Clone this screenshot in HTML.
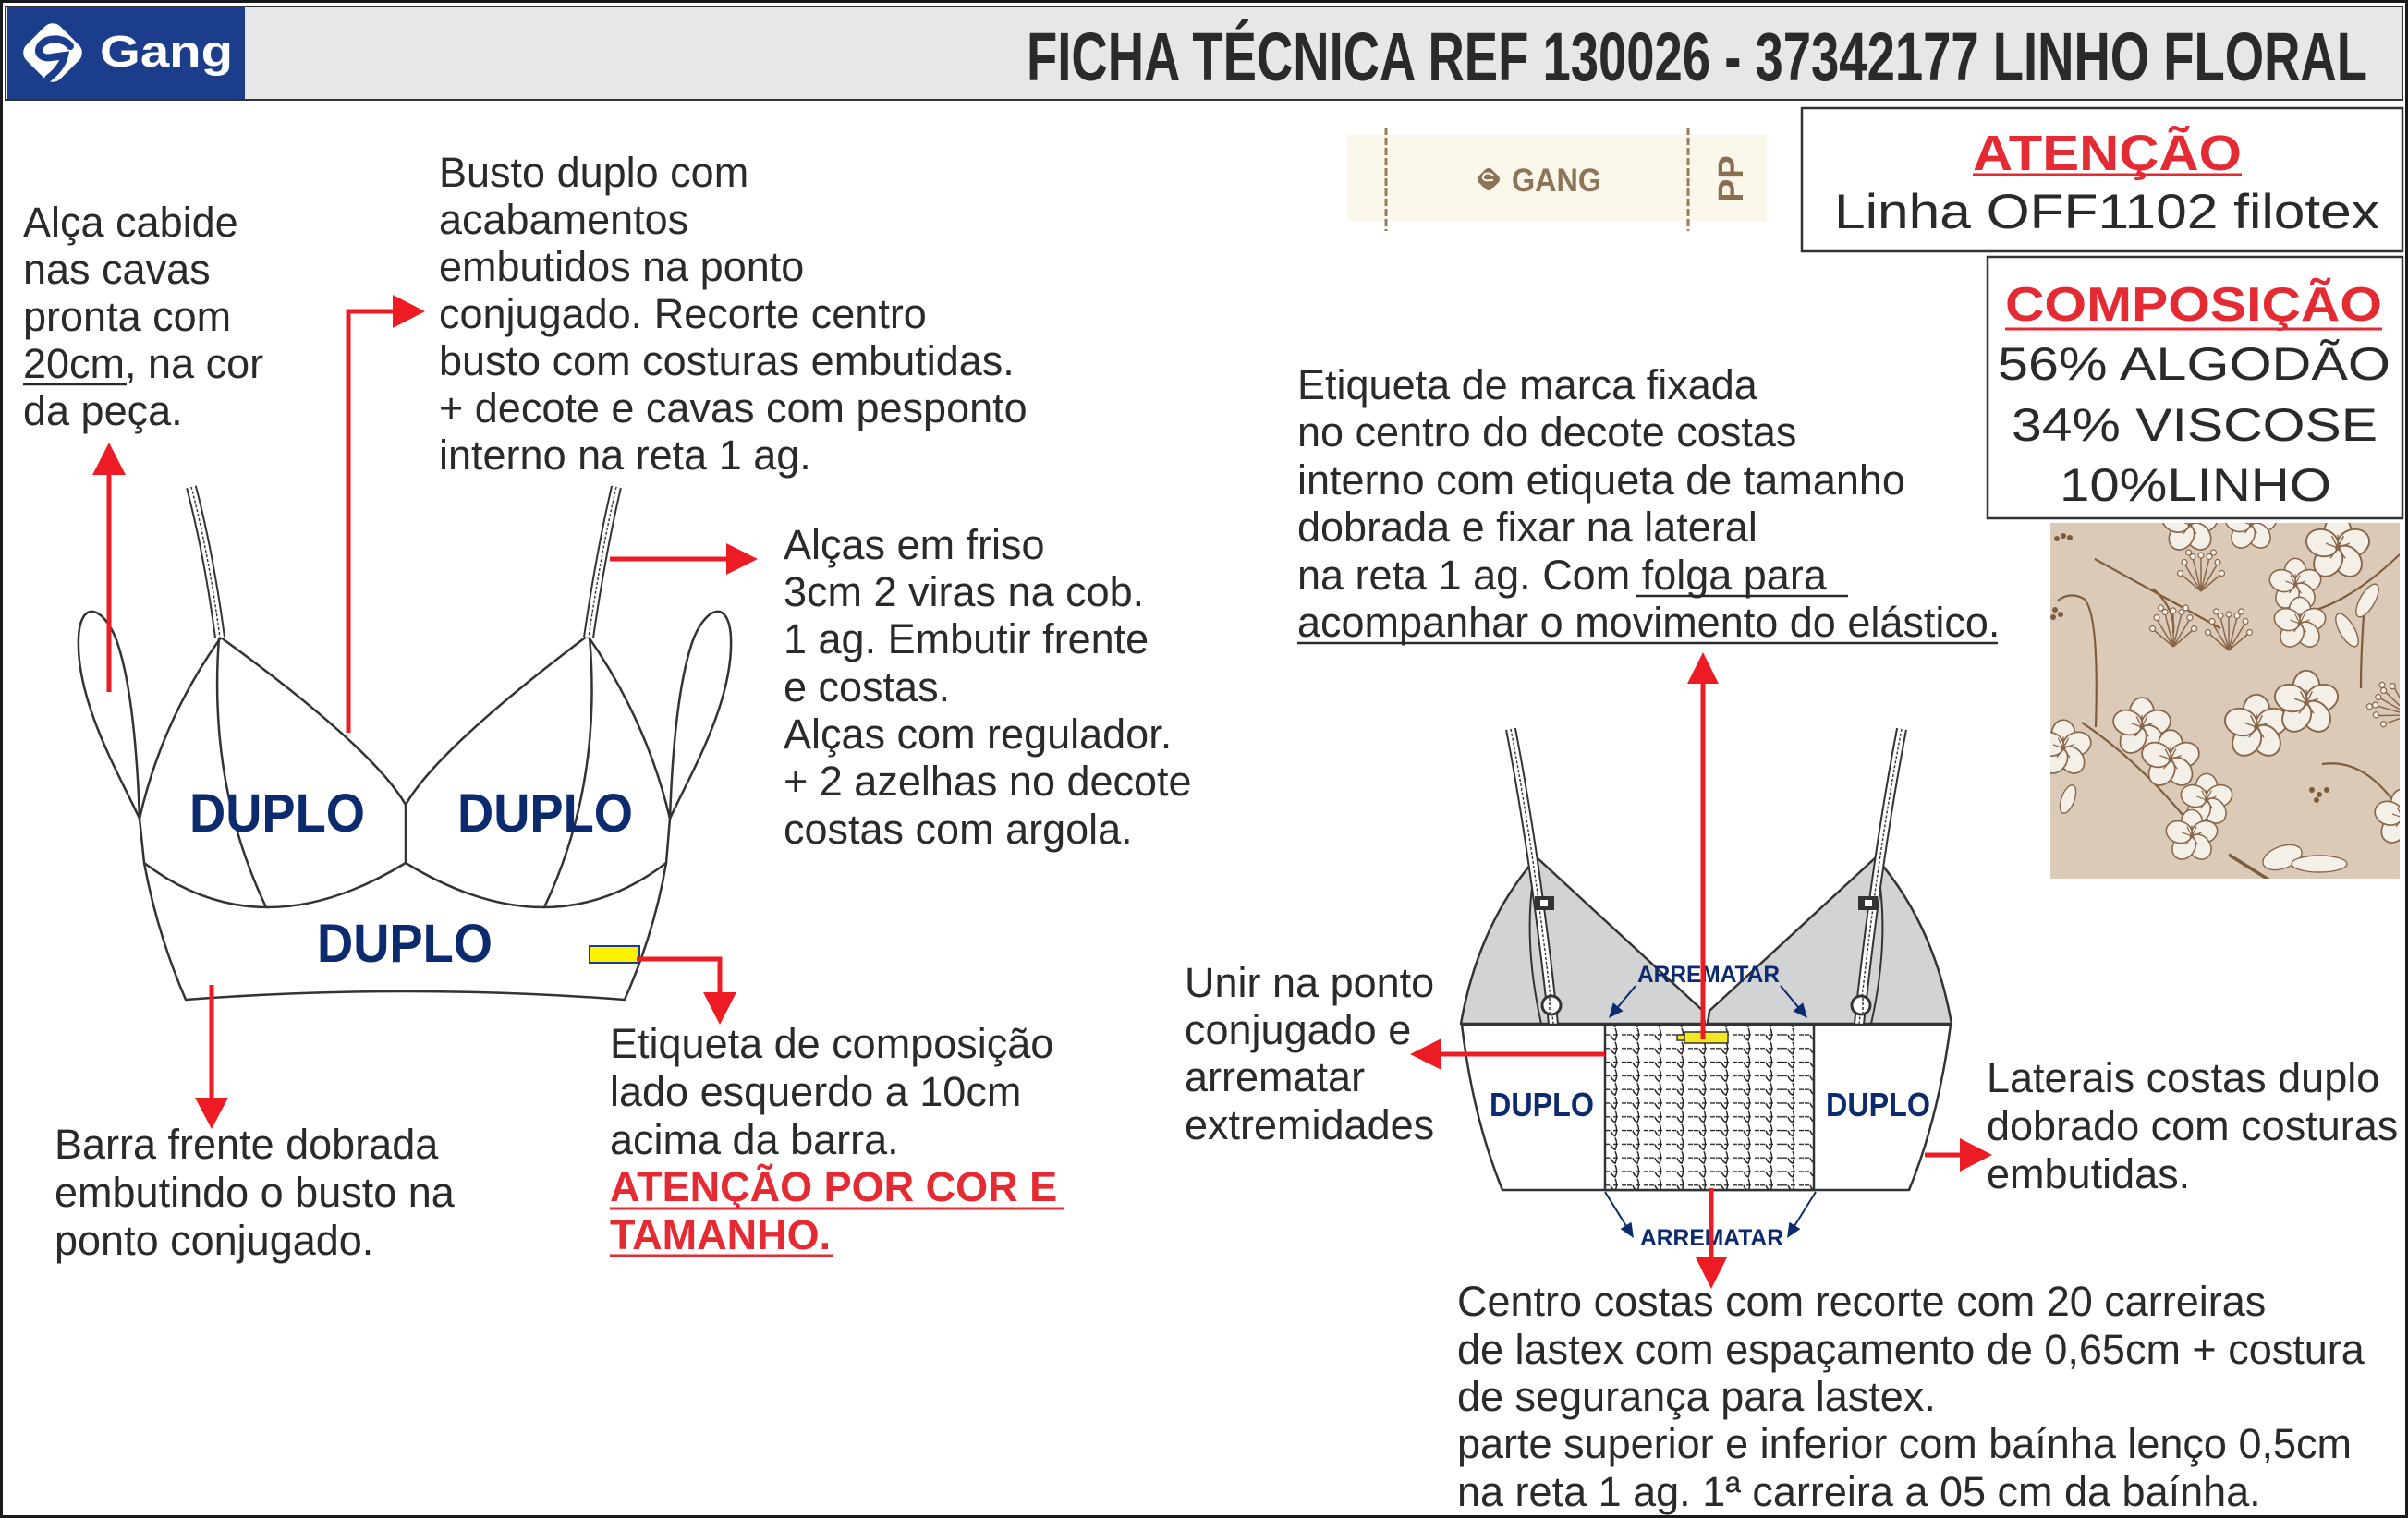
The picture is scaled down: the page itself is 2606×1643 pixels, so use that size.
<!DOCTYPE html>
<html>
<head>
<meta charset="utf-8">
<style>
html,body{margin:0;padding:0;background:#fff;}
svg{display:block;}
</style>
</head>
<body>
<svg width="2606" height="1643" viewBox="0 0 2606 1643" xmlns="http://www.w3.org/2000/svg" font-family="'Liberation Sans', Arial, sans-serif">
<defs>
  <clipPath id="swclip"><rect x="2219" y="566" width="378" height="385"/></clipPath>
  <g id="fl">
    <ellipse cx="0" cy="-11" rx="9" ry="11" fill="#f4efe7" stroke="#87664a" stroke-width="1.2"/>
    <ellipse cx="0" cy="-11" rx="9" ry="11" transform="rotate(72)" fill="#f4efe7" stroke="#87664a" stroke-width="1.2"/>
    <ellipse cx="0" cy="-11" rx="9" ry="11" transform="rotate(144)" fill="#f4efe7" stroke="#87664a" stroke-width="1.2"/>
    <ellipse cx="0" cy="-11" rx="9" ry="11" transform="rotate(216)" fill="#f4efe7" stroke="#87664a" stroke-width="1.2"/>
    <ellipse cx="0" cy="-11" rx="9" ry="11" transform="rotate(288)" fill="#f4efe7" stroke="#87664a" stroke-width="1.2"/>
    <path d="M0,0 L0,-9 M0,0 L8,-3 M0,0 L5,7 M0,0 L-5,7 M0,0 L-8,-3 M0,0 L4,-8 M0,0 L-4,-8" stroke="#87664a" stroke-width="0.9" fill="none"/>
    <circle cx="0" cy="0" r="1.8" fill="#87664a"/>
  </g>
  <g id="dd">
    <path d="M0,12 L-12,-8 M0,12 L-6,-12 M0,12 L0,-13 M0,12 L6,-12 M0,12 L12,-8 M0,12 L-14,0 M0,12 L14,0" stroke="#87664a" stroke-width="1" fill="none"/>
    <g fill="#f4efe7" stroke="#87664a" stroke-width="0.8">
      <circle cx="-12" cy="-9" r="2"/><circle cx="-6" cy="-13" r="2"/><circle cx="0" cy="-14" r="2"/>
      <circle cx="6" cy="-13" r="2"/><circle cx="12" cy="-9" r="2"/><circle cx="-15" cy="-1" r="2"/><circle cx="15" cy="-1" r="2"/>
      <circle cx="-9" cy="-16" r="2"/><circle cx="9" cy="-16" r="2"/>
    </g>
  </g>
  <path id="hk" d="M0,-7 C2,-3 2,2 0,6 C-2,5 -4,3 -5,0" fill="none" stroke="#222" stroke-width="1.5"/>
  <pattern id="lastex" patternUnits="userSpaceOnUse" x="1737" y="1113" width="24" height="14.8">
    <line x1="0" y1="7" x2="24" y2="7" stroke="#222" stroke-width="1.4" stroke-dasharray="5 4"/>
    <use href="#hk" x="11" y="7"/>
  </pattern>
</defs>

<!-- page border -->
<rect x="1.5" y="1.5" width="2603" height="1640" fill="#fff" stroke="#1a1a1a" stroke-width="3"/>

<!-- header -->
<rect x="6" y="7" width="2594" height="101" fill="#e6e7e8" stroke="#333" stroke-width="2"/>
<rect x="8" y="8" width="257" height="99" fill="#1c3d8b"/>
<rect x="31" y="31" width="52" height="52" rx="12" fill="#fff" transform="rotate(45 57 57)"/>
<path d="M76,50 C70,41 52,39 44,49 C38,58 46,64 56,62 L70,60 C68,70 61,78 52,85" fill="none" stroke="#1c3d8b" stroke-width="8" stroke-linecap="round"/>
<text x="108" y="72" font-size="48" font-weight="bold" fill="#fff" textLength="144" lengthAdjust="spacingAndGlyphs">Gang</text>
<text x="1111" y="87" font-size="74" font-weight="bold" fill="#2a2a2a" textLength="1451" lengthAdjust="spacingAndGlyphs">FICHA TÉCNICA REF 130026 - 37342177 LINHO FLORAL</text>

<!-- brand label image -->
<rect x="1458" y="146" width="454" height="93" fill="#fbf7ea"/>
<line x1="1500" y1="138" x2="1500" y2="250" stroke="#9d7b55" stroke-width="3" stroke-dasharray="8 3"/>
<line x1="1827" y1="138" x2="1827" y2="250" stroke="#9d7b55" stroke-width="3" stroke-dasharray="8 3"/>
<rect x="1601" y="184" width="20" height="20" rx="5" fill="#8c7456" transform="rotate(45 1611 194)"/>
<path d="M1616,190 C1612,186 1606,187 1605,191 C1604,195 1609,196 1612,195 L1616,195" fill="none" stroke="#fbf7ea" stroke-width="2"/>
<text x="1636" y="207" font-size="35" font-weight="bold" fill="#8c7456" textLength="97" lengthAdjust="spacingAndGlyphs">GANG</text>
<text transform="translate(1886,219) rotate(-90)" font-size="38" font-weight="bold" fill="#8b6d4f">PP</text>

<!-- ATENCAO box -->
<rect x="1950" y="117" width="650" height="155" fill="#fff" stroke="#333" stroke-width="2.5"/>
<text x="2135" y="184" font-size="54" font-weight="bold" fill="#e42b33" textLength="291" lengthAdjust="spacingAndGlyphs">ATENÇÃO</text>
<line x1="2135" y1="189" x2="2426" y2="189" stroke="#e42b33" stroke-width="3"/>
<text x="1985" y="247" font-size="53" fill="#2a2a2a" textLength="590" lengthAdjust="spacingAndGlyphs">Linha OFF1102 filotex</text>

<!-- COMPOSICAO box -->
<rect x="2151" y="278" width="449" height="283" fill="#fff" stroke="#333" stroke-width="2.5"/>
<text x="2170" y="347" font-size="52" font-weight="bold" fill="#e42b33" textLength="408" lengthAdjust="spacingAndGlyphs">COMPOSIÇÃO</text>
<line x1="2170" y1="356" x2="2578" y2="356" stroke="#e42b33" stroke-width="3"/>
<text x="2162" y="411" font-size="50" fill="#2a2a2a" textLength="425" lengthAdjust="spacingAndGlyphs">56% ALGODÃO</text>
<text x="2177" y="477" font-size="50" fill="#2a2a2a" textLength="396" lengthAdjust="spacingAndGlyphs">34% VISCOSE</text>
<text x="2229" y="542" font-size="50" fill="#2a2a2a" textLength="294" lengthAdjust="spacingAndGlyphs">10%LINHO</text>

<!-- floral swatch -->
<g clip-path="url(#swclip)">
  <rect x="2219" y="566" width="378" height="385" fill="#dbcab7"/>
  <g fill="none" stroke="#7d5c3e" stroke-width="2.2">
    <path d="M2267,605 L2403,680"/>
    <path d="M2330,637 Q2355,660 2352,685"/>
    <path d="M2227,650 Q2240,640 2255,648 Q2272,662 2268,787"/>
    <path d="M2253,782 Q2310,820 2363,883"/>
    <path d="M2513,827 Q2560,820 2597,877"/>
    <path d="M2412,925 L2455,952" stroke-width="3.5"/>
    <path d="M2597,600 Q2545,650 2500,662"/>
    <path d="M2560,640 Q2555,700 2555,745"/>
  </g>
  <use href="#dd" transform="translate(2382,622) scale(1.5)"/>
  <use href="#dd" transform="translate(2352,682) scale(1.5)"/>
  <use href="#dd" transform="translate(2412,686) scale(1.5)"/>
  <use href="#dd" transform="translate(2592,765) scale(1.5) rotate(-60)"/>
  <g fill="#7d5c3e">
    <circle cx="2226" cy="583" r="3"/><circle cx="2233" cy="580" r="3"/><circle cx="2240" cy="582" r="3"/>
    <circle cx="2224" cy="660" r="3"/><circle cx="2230" cy="665" r="3"/><circle cx="2222" cy="668" r="3"/>
    <circle cx="2502" cy="855" r="3"/><circle cx="2510" cy="860" r="3"/><circle cx="2518" cy="855" r="3"/><circle cx="2507" cy="866" r="3"/>
  </g>
  <use href="#fl" transform="translate(2530,593) scale(1.6)"/>
  <use href="#fl" transform="translate(2484,633) scale(1.3)"/>
  <use href="#fl" transform="translate(2489,675) scale(1.3)"/>
  <use href="#fl" transform="translate(2318,787) scale(1.45)"/>
  <use href="#fl" transform="translate(2349,822) scale(1.45)"/>
  <use href="#fl" transform="translate(2442,787) scale(1.6)"/>
  <use href="#fl" transform="translate(2496,761) scale(1.6)"/>
  <use href="#fl" transform="translate(2388,866) scale(1.3)"/>
  <use href="#fl" transform="translate(2372,905) scale(1.3)"/>
  <use href="#fl" transform="translate(2233,810) scale(1.4)"/>
  <use href="#fl" transform="translate(2370,568) scale(1.4)"/>
  <use href="#fl" transform="translate(2436,568) scale(1.3)"/>
  <use href="#fl" transform="translate(2600,885) scale(1.4)"/>
  <ellipse cx="2470" cy="928" rx="22" ry="12" fill="#f4efe7" stroke="#87664a" stroke-width="1.4" transform="rotate(-20 2470 928)"/>
  <ellipse cx="2510" cy="935" rx="30" ry="9" fill="#f4efe7" stroke="#87664a" stroke-width="1.4"/>
  <ellipse cx="2562" cy="650" rx="8" ry="20" fill="#f4efe7" stroke="#87664a" stroke-width="1.4" transform="rotate(30 2562 650)"/>
  <ellipse cx="2540" cy="682" rx="8" ry="20" fill="#f4efe7" stroke="#87664a" stroke-width="1.4" transform="rotate(-30 2540 682)"/>
  <ellipse cx="2238" cy="865" rx="7" ry="16" fill="#f4efe7" stroke="#87664a" stroke-width="1.4" transform="rotate(20 2238 865)"/>
</g>

<!-- body text -->
<g font-size="45" fill="#2a2a2a">
  <text x="25" y="256">Alça cabide</text>
  <text x="25" y="307">nas cavas</text>
  <text x="25" y="358">pronta com</text>
  <text x="25" y="409">20cm, na cor</text>
  <text x="25" y="460">da peça.</text>

  <text x="475" y="202">Busto duplo com</text>
  <text x="475" y="253">acabamentos</text>
  <text x="475" y="304">embutidos na ponto</text>
  <text x="475" y="355">conjugado. Recorte centro</text>
  <text x="475" y="406">busto com costuras embutidas.</text>
  <text x="475" y="457">+ decote e cavas com pesponto</text>
  <text x="475" y="508">interno na reta 1 ag.</text>

  <text x="848" y="605">Alças em friso</text>
  <text x="848" y="656">3cm 2 viras na cob.</text>
  <text x="848" y="707">1 ag. Embutir frente</text>
  <text x="848" y="759">e costas.</text>
  <text x="848" y="810">Alças com regulador.</text>
  <text x="848" y="861">+ 2 azelhas no decote</text>
  <text x="848" y="913">costas com argola.</text>

  <text x="59" y="1254">Barra frente dobrada</text>
  <text x="59" y="1306">embutindo o busto na</text>
  <text x="59" y="1358">ponto conjugado.</text>

  <text x="660" y="1145">Etiqueta de composição</text>
  <text x="660" y="1197">lado esquerdo a 10cm</text>
  <text x="660" y="1249">acima da barra.</text>

  <text x="1404" y="432">Etiqueta de marca fixada</text>
  <text x="1404" y="483">no centro do decote costas</text>
  <text x="1404" y="535">interno com etiqueta de tamanho</text>
  <text x="1404" y="586">dobrada e fixar na lateral</text>
  <text x="1404" y="638">na reta 1 ag. Com folga para </text>
  <text x="1404" y="689">acompanhar o movimento do elástico.</text>

  <text x="1282" y="1079">Unir na ponto</text>
  <text x="1282" y="1130">conjugado e</text>
  <text x="1282" y="1181">arrematar</text>
  <text x="1282" y="1233">extremidades</text>

  <text x="1577" y="1424">Centro costas com recorte com 20 carreiras</text>
  <text x="1577" y="1476">de lastex com espaçamento de 0,65cm + costura</text>
  <text x="1577" y="1527">de segurança para lastex.</text>
  <text x="1577" y="1578">parte superior e inferior com baínha lenço 0,5cm</text>
  <text x="1577" y="1630">na reta 1 ag. 1ª carreira a 05 cm da baínha.</text>

  <text x="2150" y="1182">Laterais costas duplo</text>
  <text x="2150" y="1234">dobrado com costuras</text>
  <text x="2150" y="1286">embutidas.</text>
</g>
<g font-size="45" font-weight="bold" fill="#e42b33">
  <text x="660" y="1300">ATENÇÃO POR COR E</text>
  <text x="660" y="1352">TAMANHO.</text>
</g>
<g stroke-width="2.5">
  <line x1="25" y1="416" x2="137" y2="416" stroke="#2a2a2a"/>
  <line x1="1771" y1="645" x2="2000" y2="645" stroke="#2a2a2a"/>
  <line x1="1404" y1="696" x2="2162" y2="696" stroke="#2a2a2a"/>
  <line x1="660" y1="1308" x2="1152" y2="1308" stroke="#e42b33" stroke-width="3"/>
  <line x1="660" y1="1359" x2="902" y2="1359" stroke="#e42b33" stroke-width="3"/>
</g>

<!-- FRONT BRA -->
<g fill="none" stroke="#333" stroke-width="2.5" stroke-linejoin="round">
  <path d="M151,886 C130,840 82,760 85,690 C87,650 110,655 125,690 C140,730 148,800 151,886 Z" fill="#fff"/>
  <path d="M151,886 C130,840 82,760 85,690 C87,650 110,655 125,690 C140,730 148,800 151,886 Z" fill="#fff" transform="translate(876,0) scale(-1,1)"/>
  <path d="M239,690 Q175,780 151,886 L156,934 Q170,1010 201,1082 Q439,1064 676,1082 Q708,1010 721,934 L725,886 Q700,780 636,688 Q474,810 439,871 Q404,810 239,690 Z" fill="#fff"/>
  <path d="M237,690 Q225,850 288,982"/>
  <path d="M638,689 Q652,850 589,982"/>
  <path d="M439,871 L439,934"/>
  <path d="M156,934 Q282,1030 439,934 Q596,1030 721,934"/>
</g>
<g fill="none">
  <path d="M207,527 Q226,600 238,690" stroke="#333" stroke-width="12"/>
  <path d="M207,527 Q226,600 238,690" stroke="#fff" stroke-width="8"/>
  <path d="M207,527 Q226,600 238,690" stroke="#333" stroke-width="1.4" stroke-dasharray="3 2"/>
  <path d="M667,527 Q650,600 637,690" stroke="#333" stroke-width="12"/>
  <path d="M667,527 Q650,600 637,690" stroke="#fff" stroke-width="8"/>
  <path d="M667,527 Q650,600 637,690" stroke="#333" stroke-width="1.4" stroke-dasharray="3 2"/>
</g>
<g font-size="58" font-weight="bold" fill="#0c2a6e">
  <text x="205" y="900" textLength="190" lengthAdjust="spacingAndGlyphs">DUPLO</text>
  <text x="495" y="900" textLength="190" lengthAdjust="spacingAndGlyphs">DUPLO</text>
  <text x="343" y="1041" textLength="190" lengthAdjust="spacingAndGlyphs">DUPLO</text>
</g>
<rect x="638" y="1024" width="54" height="18" fill="#fff200" stroke="#1c3d8b" stroke-width="2"/>

<!-- BACK BRA -->
<path d="M1582,1109 Q1594,1210 1626,1288 L2066,1288 Q2098,1210 2111,1109 Z" fill="#fff" stroke="#333" stroke-width="2.5" stroke-linejoin="round"/>
<g id="bcup">
  <path d="M1581,1108 Q1600,1000 1663,928 L1843,1094 L1845,1108 Z" fill="#d1d3d4" stroke="#333" stroke-width="2.5" stroke-linejoin="round"/>
  <path d="M1663,930 Q1646,1010 1668,1108" fill="none" stroke="#333" stroke-width="2"/>
  <path d="M1635,789 Q1662,930 1681,1108" fill="none" stroke="#333" stroke-width="12"/>
  <path d="M1635,789 Q1662,930 1681,1108" fill="none" stroke="#fff" stroke-width="8"/>
  <path d="M1635,789 Q1662,930 1681,1108" fill="none" stroke="#333" stroke-width="1.4" stroke-dasharray="3 2"/>
  <rect x="1661" y="970" width="21" height="15" fill="#333"/>
  <rect x="1667" y="974" width="8" height="7" fill="#fff"/>
  <circle cx="1679" cy="1088" r="10" fill="#fff" stroke="#333" stroke-width="3"/>
  <line x1="1677" y1="1080" x2="1677" y2="1096" stroke="#333" stroke-width="1.5" stroke-dasharray="3 2"/>
</g>
<use href="#bcup" transform="translate(3693,0) scale(-1,1)"/>
<line x1="1582" y1="1109" x2="2111" y2="1109" stroke="#333" stroke-width="2.5"/>
<rect x="1737" y="1109" width="226" height="179" fill="#fff" stroke="#333" stroke-width="2.5"/>
<rect x="1738" y="1110" width="224" height="177" fill="url(#lastex)"/>
<g font-size="36" font-weight="bold" fill="#0c2a6e">
  <text x="1612" y="1208" textLength="113" lengthAdjust="spacingAndGlyphs">DUPLO</text>
  <text x="1976" y="1208" textLength="113" lengthAdjust="spacingAndGlyphs">DUPLO</text>
</g>
<g font-size="25" font-weight="bold" fill="#0c2a6e">
  <text x="1772" y="1063" textLength="154" lengthAdjust="spacingAndGlyphs">ARREMATAR</text>
  <text x="1775" y="1348" textLength="155" lengthAdjust="spacingAndGlyphs">ARREMATAR</text>
</g>
<g stroke="#0c2a6e" stroke-width="2" fill="#0c2a6e">
  <line x1="1770" y1="1067" x2="1751" y2="1090"/>
  <polygon points="1741,1102 1756.6,1094.2 1745.8,1085.2" stroke="none"/>
  <line x1="1927" y1="1067" x2="1946" y2="1090"/>
  <polygon points="1956,1102 1940.4,1094.2 1951.2,1085.2" stroke="none"/>
  <line x1="1737" y1="1290" x2="1760" y2="1327"/>
  <polygon points="1768,1340 1765.5,1322.7 1753.6,1330.1" stroke="none"/>
  <line x1="1965" y1="1290" x2="1942" y2="1327"/>
  <polygon points="1934,1340 1948.4,1330.1 1936.4,1322.7" stroke="none"/>
</g>
<rect x="1815" y="1120" width="8" height="6" fill="#f5e625" stroke="#333" stroke-width="1.5"/>
<rect x="1823" y="1117" width="47" height="12" fill="#f5e625" stroke="#333" stroke-width="1.5"/>

<!-- RED ARROWS -->
<g stroke="#ed1c24" stroke-width="5" fill="none">
  <line x1="118" y1="749" x2="118" y2="510"/>
  <polyline points="377,793 377,337 427,337"/>
  <line x1="660" y1="605" x2="788" y2="605"/>
  <polyline points="689,1038 779,1038 779,1076"/>
  <line x1="229" y1="1066" x2="229" y2="1190"/>
  <line x1="1843" y1="1125" x2="1843" y2="738"/>
  <line x1="1737" y1="1141" x2="1558" y2="1141"/>
  <line x1="1852" y1="1286" x2="1852" y2="1363"/>
  <line x1="2083" y1="1250" x2="2123" y2="1250"/>
</g>
<g fill="#ed1c24">
  <polygon points="118,479 100,514 136,514"/>
  <polygon points="460,337 425,319 425,355"/>
  <polygon points="820,605 786,588 786,622"/>
  <polygon points="779,1109 761,1074 797,1074"/>
  <polygon points="229,1222 211,1188 247,1188"/>
  <polygon points="1843,706 1826,740 1860,740"/>
  <polygon points="1526,1141 1560,1124 1560,1158"/>
  <polygon points="1852,1395 1835,1361 1869,1361"/>
  <polygon points="2156,1250 2121,1232 2121,1268"/>
</g>
</svg>
</body>
</html>
